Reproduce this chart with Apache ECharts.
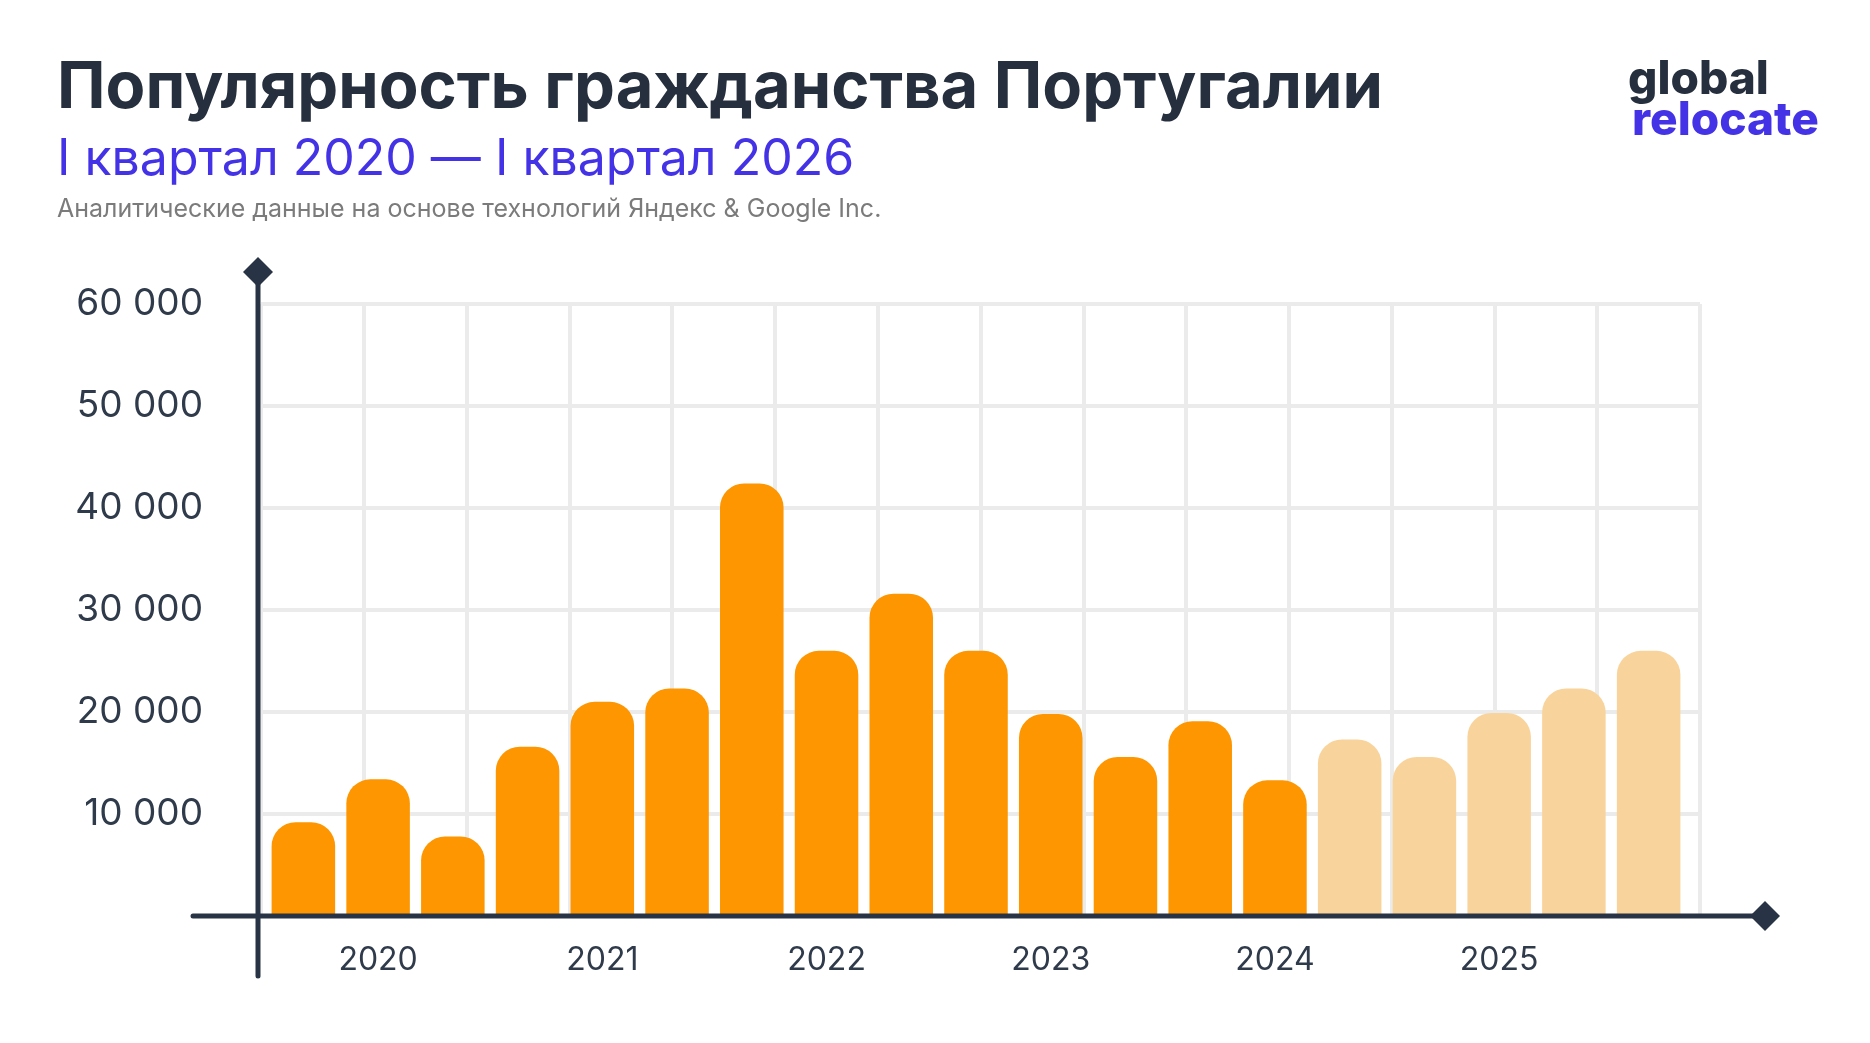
<!DOCTYPE html>
<html><head><meta charset="utf-8">
<script src="https://cdn.jsdelivr.net/npm/echarts@6/dist/echarts.min.js"></script>
<style>html,body{margin:0;padding:0;background:#fff;}#c{width:1870px;height:1043px;}</style>
</head><body><div id="c"></div>
<script>
// ---- data ----
const categories = ['2020-1','2020-2','2020-3','2021-1','2021-2','2021-3','2022-1','2022-2','2022-3',
  '2023-1','2023-2','2023-3','2024-1','2024-2','2024-3','2025-1','2025-2','2025-3','2026-1'];
const yearLabels = ['2020','2021','2022','2023','2024','2025'];
const actualValues = [9200,13400,7800,16600,21000,22300,42400,26000,31600,26000,19800,15600,19100,13300,'-','-','-','-','-'];
const forecastValues = ['-','-','-','-','-','-','-','-','-','-','-','-','-','-',17300,15600,19900,22300,26000];
const yTicks = [0,10000,20000,30000,40000,50000,60000];
const gridColumns = 14;

const title = 'Популярность гражданства Португалии';
const subtitle = 'I квартал 2020 — I квартал 2026';
const source = 'Аналитические данные на основе технологий Яндекс & Google Inc.';

// ---- chart ----
const DARK = '#283445';
const fmt = v => String(v).replace(/\B(?=(\d{3})+(?!\d))/g, ' ');
const chart = echarts.init(document.getElementById('c'), null, {renderer:'canvas'});
const yMin = yTicks[0], yMax = yTicks[yTicks.length-1], yStep = yTicks[1]-yTicks[0];

const option = {
  backgroundColor:'#ffffff',
  animation:false,
  textStyle:{fontFamily:'Inter'},
  title:[
    {text:title, left:57, top:56, padding:0, textStyle:{fontFamily:'Inter', fontWeight:700, fontSize:65, color:'#262f3d'}},
    {text:subtitle, left:57, top:135, padding:0, textStyle:{fontFamily:'Inter', fontWeight:400, fontSize:50, color:'#4433e6'}},
    {text:source, left:57, top:197, padding:0, textStyle:{fontFamily:'Inter', fontWeight:400, fontSize:25, color:'#7b7b7b'}},
    {text:'global', left:1628, top:57, padding:0, textStyle:{fontFamily:'Inter', fontWeight:800, fontSize:46, letterSpacing:1, color:'#262f3d'}},
    {text:'relocate', left:1632, top:98, padding:0, textStyle:{fontFamily:'Inter', fontWeight:800, fontSize:46, letterSpacing:1, color:'#4433e6'}}
  ],
  grid:[
    {left:261, right:170, top:304, bottom:127, containLabel:false},
    {left:266, right:184, top:304, bottom:127, containLabel:false}
  ],
  xAxis:[
    {gridIndex:0, type:'value', min:0, max:gridColumns, interval:1,
     axisLine:{show:false}, axisTick:{show:false}, axisLabel:{show:false},
     splitLine:{show:true, lineStyle:{color:'#ebebeb', width:4}}},
    {gridIndex:1, type:'category', data:categories,
     axisLine:{show:false}, axisTick:{show:false}, splitLine:{show:false},
     axisLabel:{interval:0, margin:28, fontSize:32, color:'#2f3a4a', fontFamily:'Inter',
       formatter:(v,i)=> (i%3===1 ? yearLabels[(i-1)/3] : '')}}
  ],
  yAxis:[
    {gridIndex:0, type:'value', min:yMin, max:yMax, interval:yStep,
     axisLine:{show:false}, axisTick:{show:false},
     axisLabel:{margin:58, fontSize:37, color:'#2f3a4a', fontFamily:'Inter', formatter:v=> v===0?'':fmt(v)},
     splitLine:{show:true, lineStyle:{color:'#ebebeb', width:4}}},
    {gridIndex:1, type:'value', min:yMin, max:yMax, interval:yStep,
     axisLine:{show:false}, axisTick:{show:false}, axisLabel:{show:false}, splitLine:{show:false}}
  ],
  series:[
    {type:'bar', xAxisIndex:1, yAxisIndex:1, data:actualValues, barCategoryGap:'15%', barGap:'-100%',
     itemStyle:{color:'#fd9600', borderRadius:[24,24,0,0]}},
    {type:'bar', xAxisIndex:1, yAxisIndex:1, data:forecastValues, barCategoryGap:'15%', barGap:'-100%',
     itemStyle:{color:'#f8d49c', borderRadius:[24,24,0,0]}}
  ]
};
chart.setOption(option);

// axis decorations (arrows) positioned from the library's own scale
const origin = chart.convertToPixel({gridIndex:0}, [0, yMin]);
const topPt = chart.convertToPixel({gridIndex:0}, [0, yMax]);
const rightPt = chart.convertToPixel({gridIndex:0}, [gridColumns, yMin]);
const ax = origin[0] - 3, ay = origin[1];
const D = 15;
const diamond = (cx, cy) => ({type:'polygon', shape:{points:[[cx,cy-D],[cx+D,cy],[cx,cy+D],[cx-D,cy]]}, style:{fill:DARK}, z:100});
chart.setOption({graphic:[
  {type:'line', shape:{x1:ax, y1:topPt[1]-32, x2:ax, y2:ay+60}, style:{stroke:DARK, lineWidth:5, lineCap:'round'}, z:100},
  {type:'line', shape:{x1:ax-65, y1:ay, x2:rightPt[0]+65, y2:ay}, style:{stroke:DARK, lineWidth:5, lineCap:'round'}, z:100},
  diamond(ax, topPt[1]-32),
  diamond(rightPt[0]+65, ay)
]});
</script></body></html>
